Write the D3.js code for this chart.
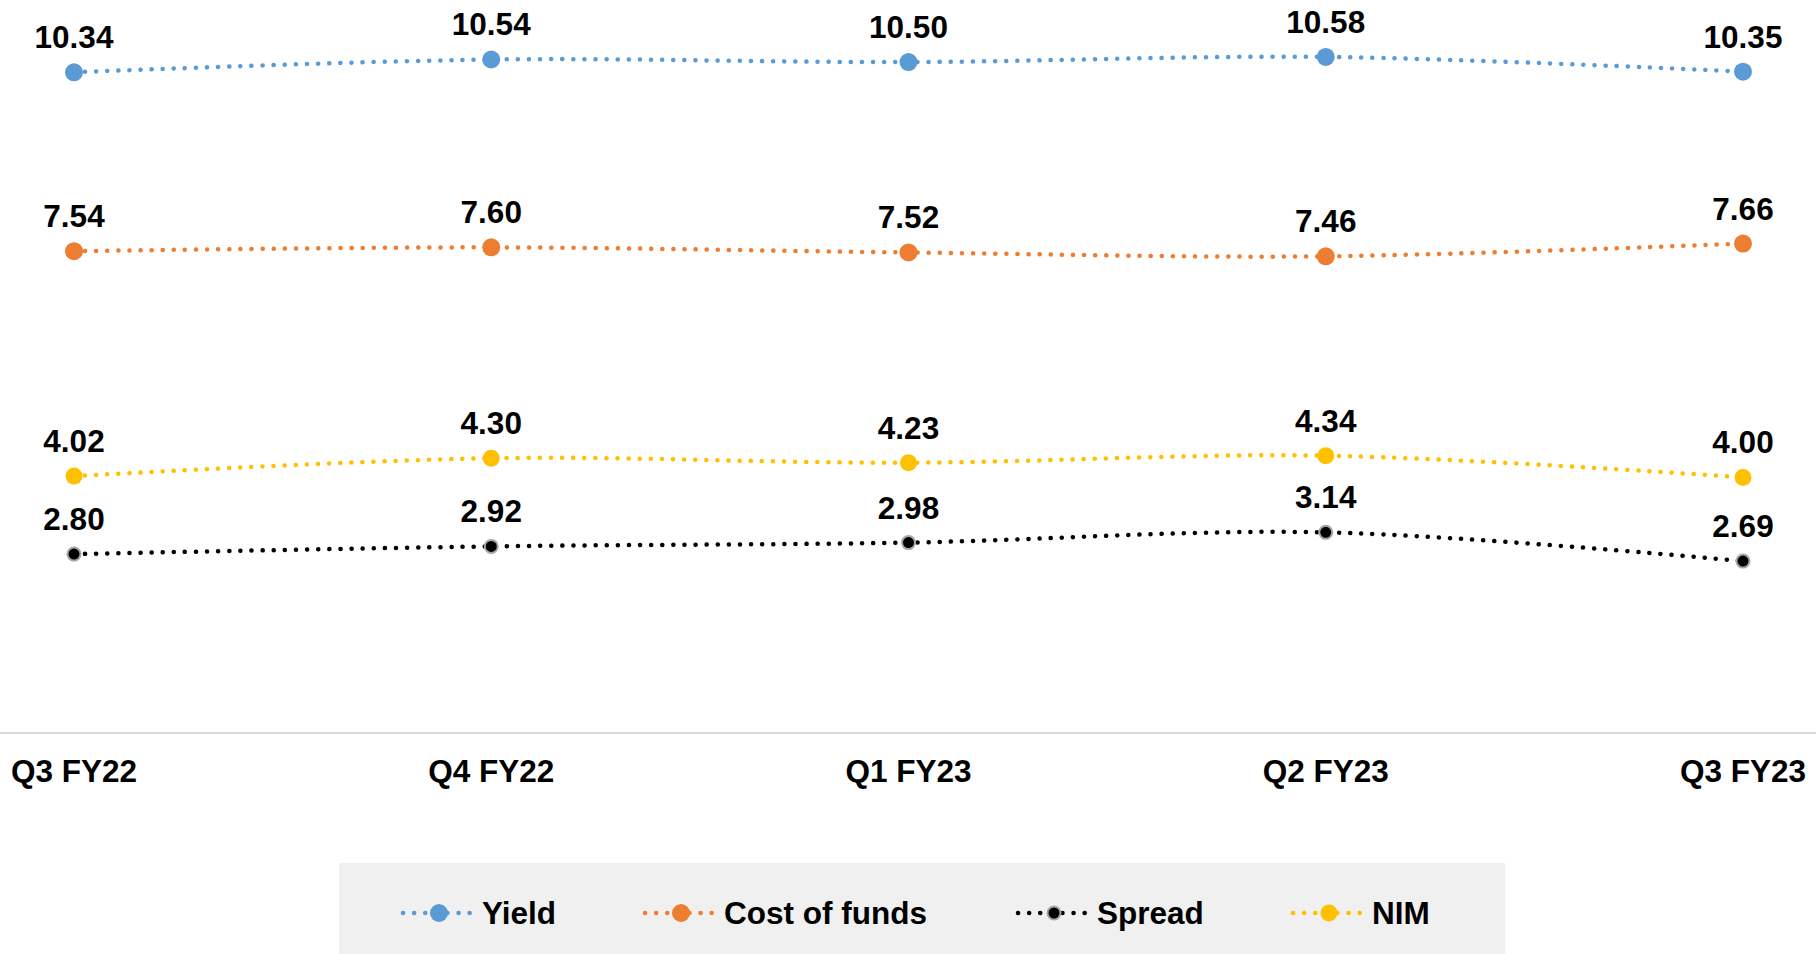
<!DOCTYPE html>
<html>
<head>
<meta charset="utf-8">
<script src="https://cdn.jsdelivr.net/npm/d3@7"></script>
<style>
  body { margin: 0; background: #fff; }
  svg { display: block; font-family: "Liberation Sans", Arial, sans-serif; }
</style>
</head>
<body>
<div id="chart"></div>
<script>
var quarters = ["Q3 FY22", "Q4 FY22", "Q1 FY23", "Q2 FY23", "Q3 FY23"];
var yieldVals = [10.34, 10.54, 10.50, 10.58, 10.35];
var costVals = [7.54, 7.60, 7.52, 7.46, 7.66];
var spreadVals = [2.80, 2.92, 2.98, 3.14, 2.69];
var nimVals = [4.02, 4.30, 4.23, 4.34, 4.00];
var seriesNames = ["Yield", "Cost of funds", "Spread", "NIM"];

var W = 1816, H = 954;

var series = [
  { name: seriesNames[0], values: yieldVals, color: "#5b9bd5", r: 9, stroke: "none" },
  { name: seriesNames[1], values: costVals, color: "#ed7d31", r: 9, stroke: "none" },
  { name: seriesNames[2], values: spreadVals, color: "#000000", r: 6.5, stroke: "#a6a6a6" },
  { name: seriesNames[3], values: nimVals, color: "#ffc000", r: 8.5, stroke: "none" }
];
// draw order: lower ones first
var drawOrder = [series[2], series[3], series[1], series[0]];

var svg = d3.select("#chart").append("svg")
  .attr("width", W)
  .attr("height", H);

var x = d3.scalePoint().domain(quarters).range([74, 1743]);
var y = d3.scaleLinear().domain([0, 10]).range([733, 94]);

// category axis line
svg.append("line")
  .attr("x1", 0).attr("x2", W)
  .attr("y1", y(0)).attr("y2", y(0))
  .style("stroke", "#d9d9d9")
  .style("stroke-width", 2);

svg.selectAll(".cat")
  .data(quarters)
  .enter()
  .append("text")
  .attr("x", function (d) { return x(d); })
  .attr("y", 782)
  .attr("text-anchor", "middle")
  .style("font-size", "31.5px")
  .style("font-weight", "bold")
  .text(function (d) { return d; });

var line = d3.line()
  .x(function (d, i) { return x(quarters[i]); })
  .y(function (d) { return y(d); })
  .curve(d3.curveCatmullRom);

drawOrder.forEach(function (s) {
  var g = svg.append("g");
  g.append("path")
    .attr("d", line(s.values))
    .style("fill", "none")
    .style("stroke", s.color)
    .style("stroke-width", 4.5)
    .style("stroke-linecap", "round")
    .style("stroke-dasharray", "0.1 11");

  g.selectAll("circle")
    .data(s.values)
    .enter()
    .append("circle")
    .attr("cx", function (d, i) { return x(quarters[i]); })
    .attr("cy", function (d) { return y(d); })
    .attr("r", s.r)
    .style("fill", s.color)
    .style("stroke", s.stroke)
    .style("stroke-width", 2);

  g.selectAll("text")
    .data(s.values)
    .enter()
    .append("text")
    .attr("x", function (d, i) { return x(quarters[i]); })
    .attr("y", function (d) { return y(d) - 24; })
    .attr("text-anchor", "middle")
    .style("font-size", "31.5px")
    .style("font-weight", "bold")
    .text(function (d) { return d3.format(".2f")(d); });
});

// legend
svg.append("rect")
  .attr("x", 339).attr("y", 863)
  .attr("width", 1166).attr("height", 91)
  .style("fill", "#f0f0f0");

var legendX = [403, 645, 1018, 1293];
series.forEach(function (s, i) {
  var lg = svg.append("g").attr("transform", "translate(" + legendX[i] + ",913)");
  lg.append("line")
    .attr("x1", 0).attr("x2", 72)
    .attr("y1", 0).attr("y2", 0)
    .style("stroke", s.color)
    .style("stroke-width", 4.5)
    .style("stroke-linecap", "round")
    .style("stroke-dasharray", "0.1 11");
  lg.append("circle")
    .attr("cx", 36).attr("cy", 0)
    .attr("r", s.r)
    .style("fill", s.color)
    .style("stroke", s.stroke)
    .style("stroke-width", 2);
  lg.append("text")
    .attr("x", 79).attr("y", 11)
    .style("font-size", "31.5px")
    .style("font-weight", "bold")
    .text(s.name);
});
</script>
</body>
</html>
